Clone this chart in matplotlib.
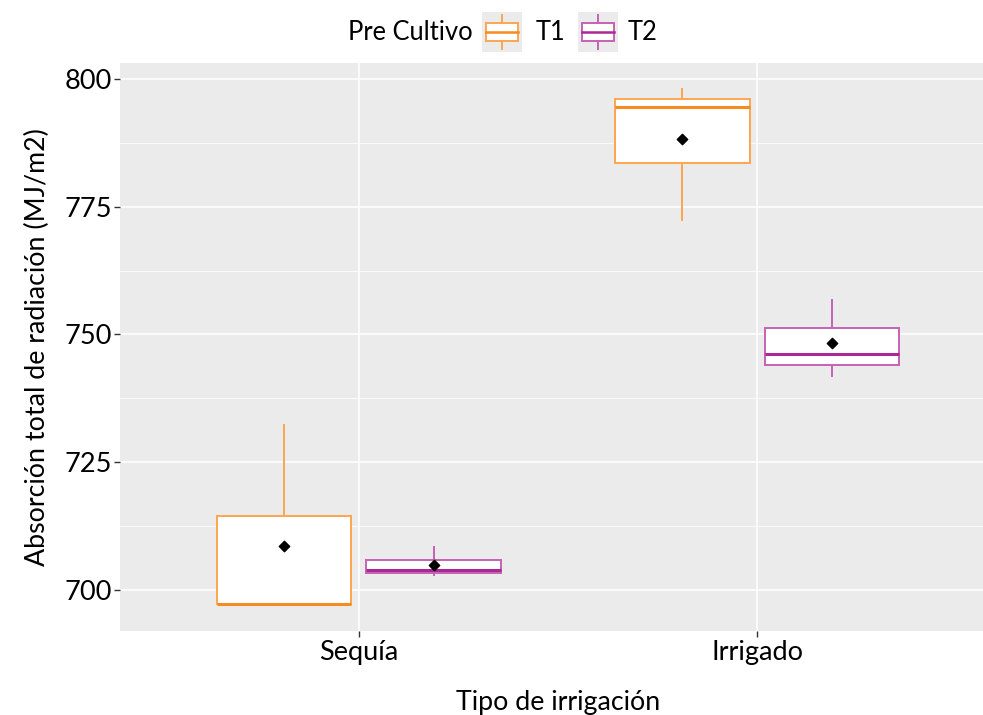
import matplotlib
matplotlib.use("Agg")
import matplotlib.pyplot as plt
from matplotlib.patches import Rectangle
from matplotlib.lines import Line2D
from matplotlib.ticker import MultipleLocator

plt.rcParams['font.family'] = ['Lato', 'DejaVu Sans']

# data
riego = ["Sequía", "Irrigado"]
cultivos = ["T1", "T2"]
# per cultivo, per riego: whisker low, q1, median, q3, whisker high, mean
wlo = {"T1": [697.3, 772.4], "T2": [702.9, 741.9]}
q1 = {"T1": [697.3, 783.5], "T2": [703.3, 744.0]}
med = {"T1": [697.3, 794.5], "T2": [703.9, 746.2]}
q3 = {"T1": [714.5, 796.1], "T2": [705.9, 751.3]}
whi = {"T1": [732.2, 798.0], "T2": [708.3, 756.8]}
media = {"T1": [708.6, 788.3], "T2": [704.8, 748.3]}

edge = {"T1": "#FFA54F", "T2": "#C562B5"}
dark = {"T1": "#F68B1F", "T2": "#A92894"}

W, H = 983, 715
fig = plt.figure(figsize=(W / 100, H / 100), dpi=100)
ax = fig.add_axes([120 / W, 1 - 630.7 / H, 876 / W, 567.4 / H])
ax.set_facecolor("#EBEBEB")
for s in ax.spines.values():
    s.set_visible(False)

ax.yaxis.set_major_locator(MultipleLocator(25))
ax.yaxis.set_minor_locator(MultipleLocator(12.5))
ax.grid(which="major", color="white", lw=1.1)
ax.grid(which="minor", color="white", lw=0.55)
ax.set_axisbelow(True)

dodge = 0.1875
bw = 0.3375
for j, c in enumerate(cultivos):
    off = -dodge if j == 0 else dodge
    stats = []
    for i in range(len(riego)):
        stats.append(dict(whislo=wlo[c][i], q1=q1[c][i], med=med[c][i],
                          q3=q3[c][i], whishi=whi[c][i], fliers=[]))
    pos = [i + 1 + off for i in range(len(riego))]
    ax.bxp(stats, positions=pos, widths=bw, showcaps=False, patch_artist=True,
           boxprops=dict(facecolor="white", edgecolor=edge[c], lw=1.4),
           whiskerprops=dict(color=edge[c], lw=1.4),
           medianprops=dict(color=dark[c], lw=2.2), manage_ticks=False,
           zorder=3)
    ax.scatter(pos, media[c], marker="D", s=28, color="black", zorder=5)

ax.set_xlim(0.4, 2.6)
ax.set_ylim(692.0, 803.1)
ax.set_xticks([1, 2])
ax.set_xticklabels(riego)
ax.tick_params(axis="both", labelsize=19.5, color="#333333", length=4,
               width=1, pad=3, labelcolor="black")
ax.tick_params(axis="y", pad=2)
ax.tick_params(axis="y", which="minor", length=0)
ax.set_xlabel("Tipo de irrigación", fontsize=19.3, labelpad=18)
ax.set_ylabel("Absorción total de radiación (MJ/m2)", fontsize=19.3, labelpad=10)

# legend on top (ggplot style, title at left)
def px(x, y):
    return x / W, 1 - y / H

fs_leg = 18.4
fig.text(*px(348, 33), "Pre Cultivo", fontsize=fs_leg, va="center", ha="left")
keys = [(482, 536), (578, 628)]
for (kx, tx), c in zip(keys, cultivos):
    ks = 40
    x0, y0 = px(kx, 12 + ks)
    fig.add_artist(Rectangle((x0, y0), ks / W, ks / H, transform=fig.transFigure,
                             facecolor="#EBEBEB", edgecolor="none"))
    bx0, by0 = px(kx + 4, 12 + 29)
    fig.add_artist(Rectangle((bx0, by0), (ks - 8) / W, 18 / H, transform=fig.transFigure,
                             facecolor="white", edgecolor=edge[c], lw=1.4))
    xm = (kx + ks / 2) / W
    fig.add_artist(Line2D([bx0, bx0 + (ks - 8) / W], [1 - 32 / H] * 2,
                          transform=fig.transFigure, color=dark[c], lw=1.8))
    fig.add_artist(Line2D([xm, xm], [1 - 15 / H, 1 - 23 / H],
                          transform=fig.transFigure, color=edge[c], lw=1.4))
    fig.add_artist(Line2D([xm, xm], [1 - 41 / H, 1 - 49 / H],
                          transform=fig.transFigure, color=edge[c], lw=1.4))
    fig.text(*px(tx, 33), c, fontsize=fs_leg, va="center", ha="left")

fig.savefig("out.png", dpi=100)
